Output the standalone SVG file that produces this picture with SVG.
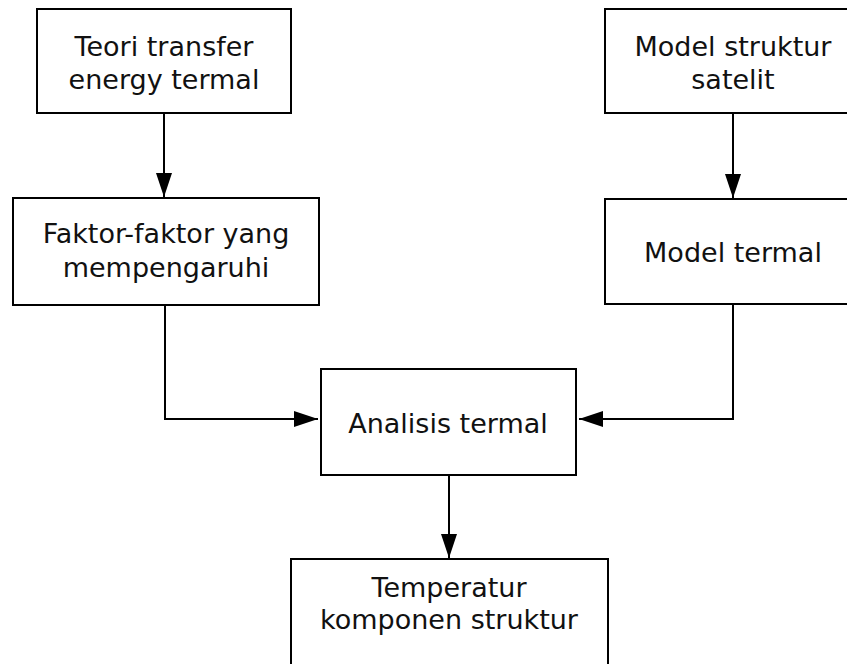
<svg xmlns="http://www.w3.org/2000/svg" width="847" height="664" viewBox="0 0 847 664">
<defs>
<style>
.box{fill:#fff;stroke:#000;stroke-width:2}
.t{font-family:"DejaVu Sans","Liberation Sans",sans-serif;font-size:27px;fill:#111;text-anchor:middle}
.c{fill:none;stroke:#000;stroke-width:2}
</style>
<marker id="ah" viewBox="0 0 24 16" refX="24" refY="8" markerWidth="24" markerHeight="16" markerUnits="userSpaceOnUse" orient="auto">
<path d="M0,0 L24,8 L0,16 Z" fill="#000"/>
</marker>
</defs>
<rect width="847" height="664" fill="#fff"/>
<g id="connectors">
<path class="c" d="M164,113 V197" marker-end="url(#ah)"/>
<path class="c" d="M733,113 V198" marker-end="url(#ah)"/>
<path class="c" d="M165,305 V419 H318" marker-end="url(#ah)"/>
<path class="c" d="M733,304 V419 H579" marker-end="url(#ah)"/>
<path class="c" d="M449,475 V558" marker-end="url(#ah)"/>
</g>
<g id="n1">
<rect class="box" x="37" y="9" width="254" height="104"/>
<text class="t" x="164" y="56">Teori transfer</text>
<text class="t" x="164" y="89">energy termal</text>
</g>
<g id="n2">
<rect class="box" x="605" y="9" width="256" height="104"/>
<text class="t" x="733" y="56">Model struktur</text>
<text class="t" x="733" y="89">satelit</text>
</g>
<g id="n3">
<rect class="box" x="13" y="198" width="306" height="107"/>
<text class="t" x="166" y="243">Faktor-faktor yang</text>
<text class="t" x="166" y="277">mempengaruhi</text>
</g>
<g id="n4">
<rect class="box" x="605" y="199" width="256" height="105"/>
<text class="t" x="733" y="262">Model termal</text>
</g>
<g id="n5">
<rect class="box" x="321" y="369" width="255" height="106"/>
<text class="t" x="448" y="433">Analisis termal</text>
</g>
<g id="n6">
<rect class="box" x="291" y="559" width="317" height="120"/>
<text class="t" x="449" y="597">Temperatur</text>
<text class="t" x="449" y="629">komponen struktur</text>
</g>
</svg>
